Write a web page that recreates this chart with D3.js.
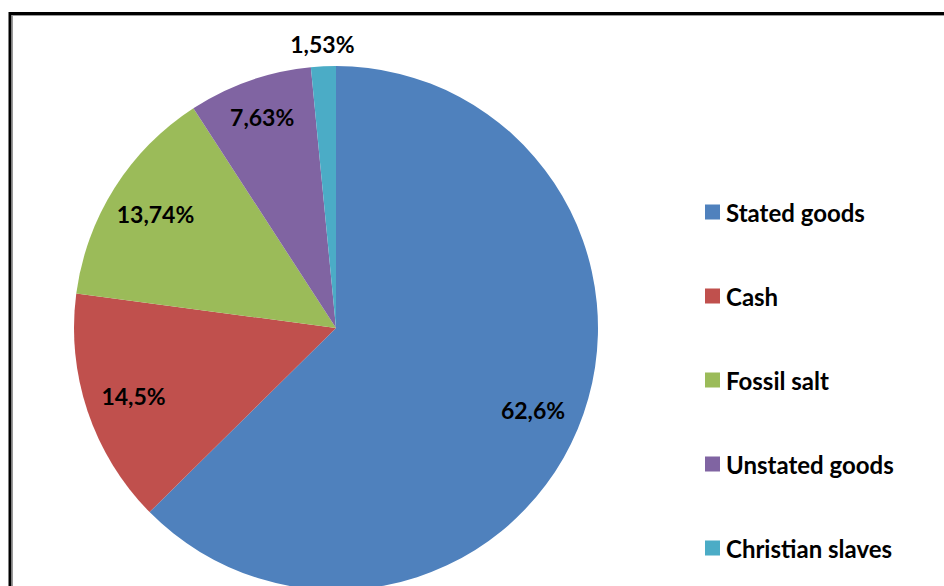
<!DOCTYPE html>
<html>
<head>
<meta charset="utf-8">
<script src="https://cdn.jsdelivr.net/npm/d3@7"></script>
<style>
  body { margin: 0; background: #fff; }
  svg text { font-family: Lato, "Open Sans", sans-serif; font-weight: bold; fill: #000; }
</style>
</head>
<body>
<svg id="chart" width="944" height="586"></svg>
<script>
// slices, clockwise from 12 o'clock
const categories = ['Stated goods', 'Cash', 'Fossil salt', 'Unstated goods', 'Christian slaves']
const shares = [62.6, 14.5, 13.74, 7.63, 1.53]
const labels = ['62,6%', '14,5%', '13,74%', '7,63%', '1,53%']
const colors = ['#4F81BD', '#C0504D', '#9BBB59', '#8064A2', '#4BACC6']

const svg = d3.select('#chart')
const cx = 336, cy = 328, R = 262

// outer frame (runs off the right and bottom edge)
svg.append('rect').attr('x', 12.5).attr('y', 15.5).attr('width', 960).attr('height', 600)
  .attr('fill', 'none').attr('stroke', '#999').attr('stroke-width', 1)
svg.append('rect').attr('x', 10).attr('y', 13.5).attr('width', 960).attr('height', 600)
  .attr('fill', 'none').attr('stroke', '#000').attr('stroke-width', 3)

const pie = d3.pie().sort(null).value(d => d)
const arcs = pie(shares)
const arc = d3.arc().innerRadius(0).outerRadius(R)

const g = svg.append('g').attr('transform', `translate(${cx},${cy})`)

g.selectAll('path.slice')
  .data(arcs)
  .enter().append('path').classed('slice', true)
  .attr('d', arc)
  .attr('fill', (d, i) => colors[i])

// label radius: inside for big slices, pushed out for small ones
const labelRadius = d => {
  const frac = (d.endAngle - d.startAngle) / (2 * Math.PI)
  if (frac < 0.03) return R + 22
  if (frac < 0.1) return R * 0.855
  return R * 0.815
}

g.selectAll('text.lbl')
  .data(arcs)
  .enter().append('text').classed('lbl', true)
  .attr('x', d => labelRadius(d) * Math.sin((d.startAngle + d.endAngle) / 2))
  .attr('y', d => -labelRadius(d) * Math.cos((d.startAngle + d.endAngle) / 2))
  .attr('text-anchor', 'middle')
  .attr('dominant-baseline', 'central')
  .attr('font-size', 23)
  .text((d, i) => labels[i])

// legend
const legendY = d3.scalePoint().domain(categories).range([212, 548])
const leg = svg.selectAll('g.legend')
  .data(categories)
  .enter().append('g').classed('legend', true)
  .attr('transform', d => `translate(705,${legendY(d)})`)

leg.append('rect')
  .attr('x', 0).attr('y', -7.5).attr('width', 15).attr('height', 15)
  .attr('fill', (d, i) => colors[i])

leg.append('text')
  .attr('x', 21).attr('y', 0)
  .attr('dominant-baseline', 'central')
  .attr('font-size', 24)
  .text(d => d)
</script>
</body>
</html>
